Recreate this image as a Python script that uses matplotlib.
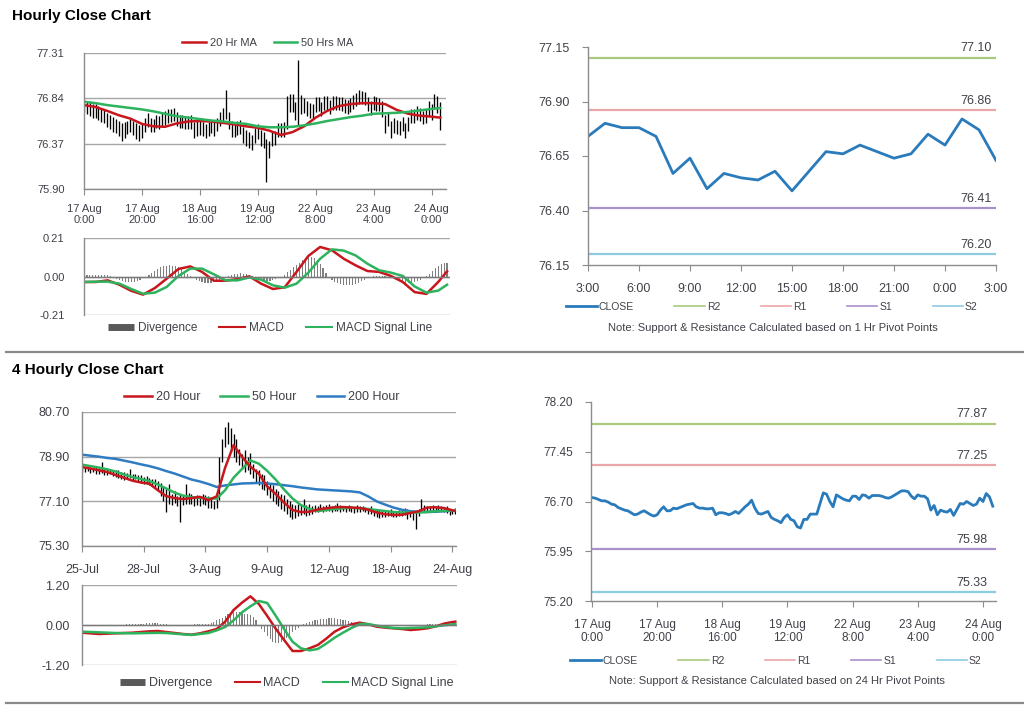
import matplotlib
matplotlib.use('Agg')
import matplotlib.pyplot as plt
from matplotlib.lines import Line2D
import numpy as np

plt.rcParams['font.family'] = ['Liberation Sans', 'DejaVu Sans']

# ---------------- DATA ----------------
# Hourly series (17 Aug 0:00 .. 24 Aug 3:00), 124 bars
h1_close = [
    76.76, 76.75, 76.73, 76.71, 76.71, 76.69, 76.66, 76.65, 76.61, 76.59,
    76.57, 76.56, 76.53, 76.50, 76.51, 76.54, 76.56, 76.53, 76.50, 76.48,
    76.50, 76.57, 76.62, 76.56, 76.56, 76.60, 76.59, 76.61, 76.63, 76.65,
    76.66, 76.67, 76.62, 76.60, 76.60, 76.59, 76.59, 76.60, 76.50, 76.53,
    76.53, 76.52, 76.50, 76.52, 76.55, 76.52, 76.57, 76.62, 76.66, 76.72,
    76.60, 76.52, 76.51, 76.53, 76.55, 76.46, 76.43, 76.41, 76.38, 76.46,
    76.50, 76.43, 76.41, 76.32, 76.30, 76.43, 76.43, 76.51, 76.51, 76.51,
    76.67, 76.83, 76.81, 76.70, 76.62, 76.80, 76.77, 76.74, 76.72, 76.71,
    76.78, 76.78, 76.73, 76.80, 76.79, 76.75, 76.79, 76.79, 76.79, 76.78,
    76.76, 76.75, 76.77, 76.80, 76.83, 76.86, 76.86, 76.85, 76.78, 76.74,
    76.80, 76.78, 76.78, 76.74, 76.57, 76.64, 76.50, 76.57, 76.55, 76.54,
    76.58, 76.49, 76.58, 76.67, 76.66, 76.70, 76.67, 76.64, 76.66, 76.75,
    76.70, 76.82, 76.77, 76.63]
h1_high = [
    76.82, 76.81, 76.80, 76.78, 76.78, 76.76, 76.74, 76.72, 76.69, 76.67,
    76.65, 76.63, 76.61, 76.58, 76.59, 76.61, 76.63, 76.61, 76.58, 76.56,
    76.58, 76.64, 76.69, 76.64, 76.63, 76.67, 76.66, 76.69, 76.71, 76.73,
    76.73, 76.74, 76.70, 76.67, 76.67, 76.66, 76.66, 76.67, 76.59, 76.60,
    76.60, 76.59, 76.57, 76.59, 76.62, 76.59, 76.64, 76.70, 76.74, 76.93,
    76.70, 76.60, 76.58, 76.60, 76.62, 76.54, 76.51, 76.49, 76.46, 76.53,
    76.57, 76.51, 76.49, 76.42, 76.40, 76.50, 76.50, 76.58, 76.58, 76.59,
    76.86, 76.89, 76.88, 76.80, 77.24, 76.87, 76.84, 76.81, 76.79, 76.78,
    76.85, 76.85, 76.80, 76.86, 76.86, 76.82, 76.86, 76.86, 76.85, 76.85,
    76.83, 76.82, 76.84, 76.87, 76.90, 76.93, 76.92, 76.91, 76.85, 76.81,
    76.86, 76.85, 76.84, 76.81, 76.67, 76.70, 76.60, 76.64, 76.62, 76.61,
    76.65, 76.58, 76.65, 76.73, 76.73, 76.76, 76.74, 76.71, 76.73, 76.81,
    76.78, 76.89, 76.86, 76.80]
h1_low = [
    76.70, 76.68, 76.66, 76.64, 76.64, 76.62, 76.59, 76.58, 76.54, 76.52,
    76.49, 76.48, 76.45, 76.40, 76.43, 76.47, 76.49, 76.46, 76.42, 76.40,
    76.43, 76.49, 76.54, 76.49, 76.49, 76.53, 76.52, 76.54, 76.56, 76.58,
    76.59, 76.60, 76.55, 76.53, 76.53, 76.52, 76.52, 76.52, 76.43, 76.45,
    76.46, 76.45, 76.43, 76.45, 76.48, 76.45, 76.50, 76.55, 76.59, 76.63,
    76.52, 76.44, 76.44, 76.46, 76.47, 76.38, 76.35, 76.33, 76.30, 76.38,
    76.42, 76.35, 76.33, 75.97, 76.22, 76.35, 76.36, 76.44, 76.44, 76.44,
    76.52, 76.70, 76.70, 76.62, 76.55, 76.68, 76.69, 76.66, 76.64, 76.64,
    76.70, 76.71, 76.66, 76.72, 76.72, 76.68, 76.72, 76.72, 76.72, 76.71,
    76.69, 76.68, 76.70, 76.73, 76.76, 76.78, 76.78, 76.77, 76.71, 76.67,
    76.72, 76.71, 76.71, 76.65, 76.48, 76.55, 76.43, 76.48, 76.47, 76.46,
    76.50, 76.43, 76.50, 76.58, 76.58, 76.62, 76.60, 76.57, 76.58, 76.66,
    76.62, 76.73, 76.69, 76.51]
h1_xlabels = ["17 Aug\n0:00", "17 Aug\n20:00", "18 Aug\n16:00", "19 Aug\n12:00",
              "22 Aug\n8:00", "23 Aug\n4:00", "24 Aug\n0:00"]
h1_yticks = [75.90, 76.37, 76.84, 77.31]

# moving averages / MACD sampled every 4 bars (bar index list)
h1_ma_idx = [0, 4, 8, 12, 16, 20, 24, 28, 32, 36, 40, 44, 48, 52, 56, 60,
             64, 68, 72, 76, 80, 84, 88, 92, 96, 100, 104, 108, 112, 116, 120, 123]
h1_ma20 = [76.77, 76.75, 76.71, 76.665, 76.63, 76.575, 76.55, 76.545, 76.58, 76.60,
           76.605, 76.60, 76.585, 76.57, 76.55, 76.535, 76.505, 76.46, 76.49, 76.55,
           76.64, 76.71, 76.76, 76.78, 76.79, 76.79, 76.78, 76.72, 76.68, 76.66,
           76.65, 76.64]
h1_ma50 = [76.805, 76.79, 76.77, 76.755, 76.74, 76.725, 76.705, 76.68, 76.655, 76.64,
           76.625, 76.61, 76.60, 76.585, 76.575, 76.55, 76.54, 76.54, 76.545, 76.56,
           76.58, 76.605, 76.625, 76.645, 76.66, 76.68, 76.685, 76.69, 76.70, 76.715,
           76.73, 76.74]
h1_macd = [-0.030, -0.030, -0.021, -0.045, -0.078, -0.099, -0.063, -0.012, 0.041, 0.055,
           0.025, -0.023, -0.023, -0.014, 0.001, -0.039, -0.068, -0.059, 0.025, 0.112,
           0.161, 0.143, 0.097, 0.061, 0.030, 0.025, 0.003, -0.030, -0.085, -0.095,
           -0.030, 0.028]
h1_signal = [-0.030, -0.028, -0.028, -0.039, -0.068, -0.094, -0.088, -0.057, 0.003, 0.043,
             0.043, 0.012, -0.021, -0.021, -0.005, -0.017, -0.048, -0.061, -0.039, 0.021,
             0.097, 0.148, 0.141, 0.115, 0.070, 0.034, 0.021, 0.003, -0.054, -0.088,
             -0.077, -0.045]
h1_div = [
    0.006, 0.006, 0.006, 0.006, 0.006, 0.006, 0.006, 0.006, 0.006, 0.004,
    -0.005, -0.012, -0.020, -0.026, -0.030, -0.032, -0.032, -0.030, -0.025, -0.018,
    -0.010, -0.004, 0.008, 0.020, 0.032, 0.042, 0.050, 0.056, 0.060, 0.062,
    0.060, 0.056, 0.050, 0.040, 0.028, 0.016, 0.005, -0.008, -0.018, -0.026,
    -0.032, -0.036, -0.038, -0.036, -0.032, -0.026, -0.018, -0.010, -0.004, 0.002,
    0.008, 0.012, 0.016, 0.018, 0.016, 0.012, 0.006, 0.001, -0.008, -0.014,
    -0.018, -0.022, -0.024, -0.022, -0.018, -0.012, -0.006, 0.000, 0.010, 0.022,
    0.036, 0.050, 0.064, 0.076, 0.088, 0.098, 0.104, 0.106, 0.100, 0.088,
    0.070, 0.045, 0.018, -0.008, -0.020, -0.030, -0.036, -0.040, -0.044, -0.046,
    -0.046, -0.044, -0.040, -0.034, -0.026, -0.018, -0.010, -0.004, 0.002, 0.004,
    0.005, 0.004, 0.002, 0.000, -0.004, -0.010, -0.018, -0.026, -0.032, -0.036,
    -0.038, -0.036, -0.032, -0.026, -0.018, -0.008, 0.004, 0.016, 0.030, 0.044,
    0.056, 0.066, 0.072, 0.074]
h1_macd_yticks = [-0.21, 0.00, 0.21]

# Last 24 hours (23 Aug 3:00 .. 24 Aug 3:00) with 1 Hr pivot levels
tr_xlabels = ["3:00", "6:00", "9:00", "12:00", "15:00", "18:00", "21:00", "0:00", "3:00"]
tr_yticks = [76.15, 76.40, 76.65, 76.90, 77.15]
tr_levels = [77.10, 76.86, 76.41, 76.20]
level_names = ["R2", "R1", "S1", "S2"]

# 24 Hr pivot levels for the hourly chart
br_yticks = [75.20, 75.95, 76.70, 77.45, 78.20]
br_levels = [77.87, 77.25, 75.98, 75.33]

# 4-hourly series (25 Jul .. 24 Aug), 134 bars
h4_high = [
    78.50, 78.48, 78.52, 78.47, 78.45, 78.50, 78.44, 78.69, 78.45, 78.40,
    78.42, 78.38, 78.35, 78.36, 78.30, 78.28, 78.25, 78.40, 78.22, 78.20,
    78.18, 78.15, 78.10, 78.12, 78.05, 78.00, 77.98, 77.90, 77.85, 77.70,
    77.60, 77.81, 77.40, 77.50, 77.30, 77.40, 77.35, 77.81, 77.45, 77.40,
    77.30, 77.35, 77.30, 77.40, 77.35, 77.30, 77.25, 77.10, 77.20, 78.90,
    79.60, 80.10, 80.30, 80.05, 79.80, 79.60, 79.20, 79.00, 79.15, 78.90,
    79.05, 78.60, 78.40, 78.35, 78.20, 78.15, 77.90, 77.80, 77.75, 77.60,
    77.50, 77.40, 77.35, 77.20, 77.10, 77.00, 76.95, 77.00, 76.95, 77.20,
    76.95, 77.00, 76.92, 76.95, 76.92, 76.98, 76.90, 76.95, 77.00, 76.92,
    76.95, 77.05, 76.95, 76.92, 76.90, 76.95, 76.92, 76.88, 76.95, 76.90,
    76.92, 76.88, 76.85, 76.90, 76.80, 76.78, 76.75, 76.72, 76.75, 76.70,
    76.78, 76.72, 76.70, 76.75, 76.80, 76.85, 76.78, 76.75, 76.70, 76.65,
    76.80, 77.21, 76.95, 76.90, 76.92, 76.95, 76.90, 76.95, 76.92, 76.88,
    76.90, 76.80, 76.78, 76.82]
h4_low = [
    78.30, 78.28, 78.32, 78.25, 78.27, 78.22, 78.20, 78.25, 78.18, 78.15,
    78.20, 78.12, 78.10, 78.05, 78.02, 77.95, 78.00, 78.05, 77.95, 77.98,
    77.92, 77.85, 77.80, 77.78, 77.75, 77.72, 77.68, 77.55, 77.30, 77.10,
    76.67, 77.00, 76.95, 77.05, 76.90, 76.27, 76.95, 77.00, 77.00, 76.98,
    76.90, 76.95, 76.92, 76.98, 76.95, 76.85, 76.82, 76.80, 76.85, 77.15,
    78.70, 79.30, 79.40, 79.10, 78.90, 78.70, 78.55, 78.40, 78.30, 78.35,
    78.20, 78.05, 77.85, 77.75, 77.60, 77.55, 77.35, 77.25, 77.10, 77.00,
    76.90, 76.80, 76.70, 76.60, 76.45, 76.40, 76.42, 76.50, 76.55, 76.60,
    76.50, 76.55, 76.60, 76.65, 76.68, 76.70, 76.65, 76.70, 76.72, 76.68,
    76.70, 76.72, 76.68, 76.70, 76.66, 76.70, 76.68, 76.62, 76.65, 76.66,
    76.70, 76.65, 76.60, 76.58, 76.50, 76.45, 76.42, 76.48, 76.45, 76.50,
    76.52, 76.48, 76.45, 76.50, 76.52, 76.55, 76.40, 76.45, 76.35, 76.00,
    76.50, 76.65, 76.68, 76.70, 76.72, 76.70, 76.68, 76.72, 76.70, 76.65,
    76.62, 76.55, 76.58, 76.60]
h4_xlabels = ["25-Jul", "28-Jul", "3-Aug", "9-Aug", "12-Aug", "18-Aug", "24-Aug"]
h4_yticks = [75.30, 77.10, 78.90, 80.70]

# 4-hourly MAs / MACD sampled every 3 bars
h4_ma_idx = [0, 3, 6, 9, 12, 15, 18, 21, 24, 27, 30, 33, 36, 39, 42, 45, 48, 51, 54,
             57, 60, 63, 66, 69, 72, 75, 78, 81, 84, 87, 90, 93, 96, 99, 102, 105, 108,
             111, 114, 117, 120, 123, 126, 129, 132, 133]
h4_ma20 = [78.48, 78.42, 78.35, 78.28, 78.16, 78.05, 77.93, 77.86, 77.81, 77.55,
           77.31, 77.23, 77.19, 77.23, 77.28, 77.15, 77.30, 78.45, 79.36, 78.90,
           78.50, 78.22, 77.70, 77.40, 77.05, 76.75, 76.67, 76.68, 76.77, 76.82,
           76.86, 76.87, 76.85, 76.83, 76.76, 76.65, 76.58, 76.55, 76.56, 76.63,
           76.70, 76.85, 76.86, 76.83, 76.74, 76.71]
h4_ma50 = [78.58, 78.52, 78.46, 78.39, 78.30, 78.18, 78.08, 78.00, 77.92, 77.78,
           77.62, 77.45, 77.33, 77.27, 77.24, 77.22, 77.21, 77.55, 78.05, 78.40,
           78.75, 78.62, 78.33, 77.98, 77.58, 77.22, 76.95, 76.80, 76.71, 76.75,
           76.79, 76.82, 76.84, 76.82, 76.79, 76.75, 76.71, 76.67, 76.65, 76.65,
           76.65, 76.67, 76.70, 76.72, 76.74, 76.74]
h4_ma200 = [78.98, 78.94, 78.90, 78.85, 78.81, 78.74, 78.67, 78.59, 78.52, 78.43,
            78.32, 78.22, 78.10, 77.98, 77.90, 77.80, 77.68, 77.74, 77.78, 77.82,
            77.83, 77.84, 77.82, 77.79, 77.75, 77.71, 77.66, 77.62, 77.58, 77.56,
            77.54, 77.52, 77.50, 77.46, 77.30, 77.10, 76.97, 76.85, 76.76, 76.70,
            76.68, 76.67, 76.68, 76.70, 76.73, 76.74]
h4_macd = [-0.23, -0.25, -0.27, -0.26, -0.25, -0.24, -0.23, -0.21, -0.19, -0.18,
           -0.21, -0.24, -0.27, -0.29, -0.25, -0.19, -0.12, 0.10, 0.45, 0.67,
           0.86, 0.63, 0.27, -0.11, -0.45, -0.78, -0.78, -0.70, -0.60, -0.41,
           -0.20, -0.07, 0.02, 0.07, 0.02, -0.05, -0.08, -0.10, -0.12, -0.15,
           -0.13, -0.10, -0.04, 0.04, 0.09, 0.10]
h4_signal = [-0.20, -0.21, -0.22, -0.23, -0.24, -0.245, -0.25, -0.245, -0.24, -0.235,
             -0.24, -0.26, -0.28, -0.30, -0.27, -0.24, -0.16, -0.06, 0.14, 0.38,
             0.56, 0.72, 0.66, 0.28, -0.12, -0.50, -0.70, -0.76, -0.72, -0.56,
             -0.38, -0.23, -0.09, 0.03, 0.03, -0.02, -0.06, -0.09, -0.10, -0.09,
             -0.08, -0.07, -0.04, -0.01, 0.02, 0.03]
h4_div = [
    -0.03, -0.03, -0.04, -0.04, -0.03, -0.03, -0.02, -0.02, -0.02, -0.01,
    -0.01, 0.00, 0.00, 0.01, 0.01, 0.01, 0.02, 0.02, 0.02, 0.03,
    0.03, 0.04, 0.04, 0.05, 0.05, 0.05, 0.05, 0.05, 0.04, 0.03,
    0.02, 0.01, 0.00, -0.01, -0.01, -0.02, -0.02, -0.01, 0.00, 0.01,
    0.02, 0.03, 0.03, 0.04, 0.04, 0.03, 0.06, 0.10, 0.14, 0.18,
    0.22, 0.27, 0.32, 0.36, 0.39, 0.40, 0.39, 0.37, 0.34, 0.32,
    0.30, 0.25, 0.15, -0.02, -0.12, -0.22, -0.32, -0.42, -0.50, -0.54,
    -0.55, -0.52, -0.46, -0.38, -0.30, -0.22, -0.15, -0.08, -0.02, 0.03,
    0.06, 0.09, 0.12, 0.14, 0.16, 0.17, 0.18, 0.19, 0.20, 0.20,
    0.20, 0.19, 0.18, 0.16, 0.14, 0.11, 0.08, 0.05, 0.03, 0.03,
    0.02, 0.01, 0.00, -0.01, -0.02, -0.03, -0.03, -0.03, -0.03, -0.03,
    -0.02, -0.02, -0.02, -0.02, -0.02, -0.03, -0.03, -0.03, -0.02, -0.02,
    -0.01, 0.00, 0.01, 0.02, 0.02, 0.03, 0.03, 0.04, 0.04, 0.05,
    0.05, 0.06, 0.06, 0.06]
h4_macd_yticks = [-1.20, 0.00, 1.20]

# ---------------- STYLE ----------------
RED = '#c8161d'
GREEN = '#2db35d'
BLUE200 = '#2f7cc2'
CLOSEC = '#2a7bbb'
LEVEL_COLORS = ['#aac97e', '#eba6aa', '#aa90cc', '#8ccbe0']
GRID = '#a6a6a6'
AXC = '#8c8c8c'
TXT = '#404048'
DIVC = '#7f7f7f'

W, H = 1024, 706
fig = plt.figure(figsize=(W / 100, H / 100), dpi=100)


def px_axes(l, t, r, b):
    return fig.add_axes([l / W, 1 - b / H, (r - l) / W, (b - t) / H])


def base_style(ax, fs, xpad, ypad):
    for s in ['top', 'right']:
        ax.spines[s].set_visible(False)
    for s in ['left', 'bottom']:
        ax.spines[s].set_color(AXC)
        ax.spines[s].set_linewidth(1.0)
    ax.tick_params(axis='both', colors=AXC, labelcolor=TXT, labelsize=fs,
                   length=4, width=0.8, direction='out')
    ax.tick_params(axis='x', pad=xpad)
    ax.tick_params(axis='y', pad=ypad)


def fig_legend(handles, labels, cx, cy, fs, hl, hp, cs):
    fig.legend(handles, labels, loc='center', bbox_to_anchor=(cx / W, 1 - cy / H),
               ncol=len(handles), frameon=False, fontsize=fs, handlelength=hl,
               handletextpad=hp, columnspacing=cs, borderpad=0, labelcolor=TXT)


# Titles and separators
fig.text(12 / W, 1 - 16 / H, "Hourly Close Chart", fontsize=11, fontweight='bold',
         va='center', ha='left', color='black')
fig.text(12 / W, 1 - 370 / H, "4 Hourly Close Chart", fontsize=11, fontweight='bold',
         va='center', ha='left', color='black')
fig.add_artist(Line2D([6 / W, 1.0], [1 - 352 / H, 1 - 352 / H], color='#8a8a8a', lw=1.6))
fig.add_artist(Line2D([6 / W, 1.0], [1 - 703 / H, 1 - 703 / H], color='#8a8a8a', lw=1.6))

# ---- Hourly price (OHLC range bars + MAs) ----
ax1 = px_axes(84, 53, 446, 189)
i1 = np.arange(len(h1_close))
ax1.vlines(i1, h1_low, h1_high, color='black', lw=0.95)
ax1.plot(h1_ma_idx, h1_ma20, color=RED, lw=1.8)
ax1.plot(h1_ma_idx, h1_ma50, color=GREEN, lw=1.8)
ax1.set_ylim(h1_yticks[0], h1_yticks[-1])
ax1.set_yticks(h1_yticks)
ax1.set_yticklabels([f"{v:.2f}" for v in h1_yticks])
ax1.set_xlim(0, 125)
ax1.set_xticks(np.arange(len(h1_xlabels)) * 20)
ax1.set_xticklabels(h1_xlabels, linespacing=1.05)
ax1.grid(axis='y', color=GRID, lw=1.0)
ax1.set_axisbelow(True)
base_style(ax1, 8, 7, 14)
ax1.tick_params(axis='y', length=0)
fig_legend([Line2D([], [], color=RED, lw=1.8), Line2D([], [], color=GREEN, lw=1.8)],
           ["20 Hr MA", "50 Hrs MA"], 268, 43, 8, 2.1, 0.4, 1.5)

# ---- Hourly MACD ----
ax2 = px_axes(84, 238, 450, 315)
ax2.bar(i1, h1_div, width=0.4, color=DIVC)
ax2.plot(h1_ma_idx, h1_macd, color=RED, lw=1.8)
ax2.plot(h1_ma_idx, h1_signal, color=GREEN, lw=1.8)
ax2.axhline(0, color='#7a7a7a', lw=1.0)
ax2.set_ylim(-0.21, 0.21)
ax2.set_yticks(h1_macd_yticks)
ax2.set_yticklabels([f"{v:.2f}" for v in h1_macd_yticks])
ax2.set_xlim(0, 124)
ax2.set_xticks([])
ax2.grid(axis='y', color=GRID, lw=1.0)
ax2.set_axisbelow(True)
base_style(ax2, 8, 4, 14)
ax2.tick_params(axis='y', length=0)
ax2.spines['bottom'].set_visible(False)
fig_legend([Line2D([], [], color='#595959', lw=5, solid_capstyle='butt'),
            Line2D([], [], color=RED, lw=1.5), Line2D([], [], color=GREEN, lw=1.5)],
           ["Divergence", "MACD", "MACD Signal Line"], 270, 328, 8.5, 2.2, 0.3, 1.9)

# ---- Last 24 hours with 1 Hr pivots ----
tr_close = h1_close[-25:]
ax3 = px_axes(588, 47, 996, 265)
x3 = np.arange(len(tr_close))
for v, c in zip(tr_levels, LEVEL_COLORS):
    ax3.axhline(v, color=c, lw=1.6)
    ax3.annotate(f"{v:.2f}", xy=(1, v), xycoords=('axes fraction', 'data'),
                 xytext=(-3, 2.5), textcoords='offset points', ha='right', va='bottom',
                 fontsize=9, color=TXT)
ax3.plot(x3, tr_close, color=CLOSEC, lw=2.0)
ax3.set_ylim(tr_yticks[0], tr_yticks[-1])
ax3.set_yticks(tr_yticks)
ax3.set_yticklabels([f"{v:.2f}" for v in tr_yticks])
ax3.set_xlim(0, 24)
ax3.set_xticks(np.arange(len(tr_xlabels)) * 3)
ax3.set_xticklabels(tr_xlabels)
base_style(ax3, 9, 9, 9)
lev_handles = [Line2D([], [], color=CLOSEC, lw=2.0)] + \
              [Line2D([], [], color=c, lw=1.2) for c in LEVEL_COLORS]
fig_legend(lev_handles, ["CLOSE"] + level_names, 772, 307, 7.5, 2.9, 0.2, 3.9)
fig.text(773 / W, 1 - 328 / H, "Note: Support & Resistance Calculated based on 1 Hr Pivot Points",
         ha='center', va='center', fontsize=8, color=TXT)

# ---- 4-hourly price ----
ax4 = px_axes(82, 412, 456, 546)
i4 = np.arange(len(h4_high))
ax4.vlines(i4, h4_low, h4_high, color='black', lw=0.95)
ax4.plot(h4_ma_idx, h4_ma200, color=BLUE200, lw=1.8)
ax4.plot(h4_ma_idx, h4_ma50, color=GREEN, lw=1.8)
ax4.plot(h4_ma_idx, h4_ma20, color=RED, lw=1.8)
ax4.set_ylim(h4_yticks[0], h4_yticks[-1])
ax4.set_yticks(h4_yticks)
ax4.set_yticklabels([f"{v:.2f}" for v in h4_yticks])
ax4.set_xlim(0, 133.3)
ax4.set_xticks(np.arange(len(h4_xlabels)) * 22)
ax4.set_xticklabels(h4_xlabels)
ax4.grid(axis='y', color=GRID, lw=1.0)
ax4.set_axisbelow(True)
base_style(ax4, 9, 9, 9)
ax4.tick_params(axis='y', length=0)
fig_legend([Line2D([], [], color=RED, lw=1.8), Line2D([], [], color=GREEN, lw=1.8),
            Line2D([], [], color=BLUE200, lw=1.8)],
           ["20 Hour", "50 Hour", "200 Hour"], 262, 397, 9, 2.2, 0.35, 1.6)

# ---- 4-hourly MACD ----
ax5 = px_axes(82, 585, 457, 665)
ax5.bar(i4, h4_div, width=0.4, color=DIVC)
ax5.plot(h4_ma_idx, h4_macd, color=RED, lw=1.8)
ax5.plot(h4_ma_idx, h4_signal, color=GREEN, lw=1.8)
ax5.axhline(0, color='#7a7a7a', lw=1.0)
ax5.set_ylim(-1.2, 1.2)
ax5.set_yticks(h4_macd_yticks)
ax5.set_yticklabels([f"{v:.2f}" for v in h4_macd_yticks])
ax5.set_xlim(0, 133.6)
ax5.set_xticks([])
ax5.grid(axis='y', color=GRID, lw=1.0)
ax5.set_axisbelow(True)
base_style(ax5, 9, 4, 9)
ax5.tick_params(axis='y', length=0)
ax5.spines['bottom'].set_visible(False)
fig_legend([Line2D([], [], color='#595959', lw=5, solid_capstyle='butt'),
            Line2D([], [], color=RED, lw=1.5), Line2D([], [], color=GREEN, lw=1.5)],
           ["Divergence", "MACD", "MACD Signal Line"], 287, 683, 9, 2.0, 0.3, 1.8)

# ---- Hourly close with 24 Hr pivots ----
ax6 = px_axes(591, 402, 996, 601)
for v, c in zip(br_levels, LEVEL_COLORS):
    ax6.axhline(v, color=c, lw=1.6)
    ax6.annotate(f"{v:.2f}", xy=(1, v), xycoords=('axes fraction', 'data'),
                 xytext=(-6, 2.5), textcoords='offset points', ha='right', va='bottom',
                 fontsize=9, color=TXT)
ax6.plot(i1, h1_close, color=CLOSEC, lw=2.0)
ax6.set_ylim(br_yticks[0], br_yticks[-1])
ax6.set_yticks(br_yticks)
ax6.set_yticklabels([f"{v:.2f}" for v in br_yticks])
ax6.set_xlim(-0.3, 124)
ax6.set_xticks(np.arange(len(h1_xlabels)) * 20)
ax6.set_xticklabels(h1_xlabels, linespacing=1.05)
base_style(ax6, 8.5, 9, 9)
fig_legend(lev_handles, ["CLOSE"] + level_names, 776, 661, 7.5, 2.9, 0.2, 3.9)
fig.text(777 / W, 1 - 681 / H, "Note: Support & Resistance Calculated based on 24 Hr Pivot Points",
         ha='center', va='center', fontsize=8, color=TXT)

fig.savefig("out.png", dpi=100)
